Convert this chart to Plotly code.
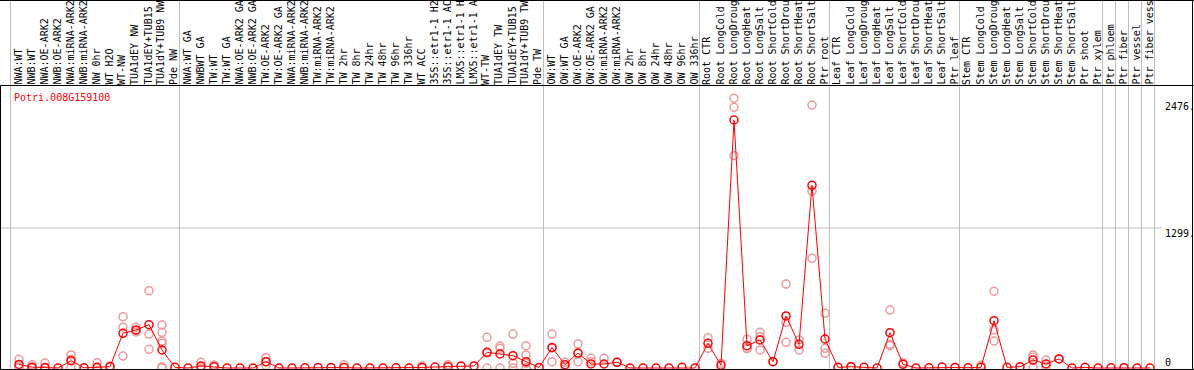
import plotly.graph_objects as go

categories = [
    "NWA:WT", "NWB:WT", "NWA:OE-ARK2", "NWB:OE-ARK2", "NWA:miRNA-ARK2", "NWB:miRNA-ARK2",
    "NW 0hr", "WT H2O", "WT-NW", "TUA1dEY NW", "TUA1dEY+TUB15", "TUA1dY+TUB9 NW", "Pde NW",
    "NWA:WT GA", "NWBWT GA", "TW:WT", "TW:WT GA", "NWA:OE-ARK2 GA", "NWB:OE-ARK2 GA",
    "TW:OE-ARK2", "TW:OE-ARK2 GA", "NWA:miRNA-ARK2", "NWB:miRNA-ARK2", "TW:miRNA-ARK2",
    "TW:miRNA-ARK2", "TW 2hr", "TW 8hr", "TW 24hr", "TW 48hr", "TW 96hr", "TW 336hr",
    "WT ACC", "35S::etr1-1 H2", "35S::etr1-1 AC", "LMX5::etr1-1 H", "LMX5::etr1-1 A",
    "WT-TW", "TUA1dEY TW", "TUA1dEY+TUB15", "TUA1dY+TUB9 TW", "Pde TW",
    "OW:WT", "OW:WT GA", "OW:OE-ARK2", "OW:OE-ARK2 GA", "OW:miRNA-ARK2", "OW:miRNA-ARK2",
    "OW 2hr", "OW 8hr", "OW 24hr", "OW 48hr", "OW 96hr", "OW 336hr",
    "Root CTR", "Root LongCold", "Root LongDroug", "Root LongHeat", "Root LongSalt",
    "Root ShortCold", "Root ShortDrou", "Root ShortHeat", "Root ShortSalt", "Ptr root",
    "Leaf CTR", "Leaf LongCold", "Leaf LongDroug", "Leaf LongHeat", "Leaf LongSalt",
    "Leaf ShortCold", "Leaf ShortDrou", "Leaf ShortHeat", "Leaf ShortSalt", "Ptr leaf",
    "Stem CTR", "Stem LongCold", "Stem LongDroug", "Stem LongHeat", "Stem LongSalt",
    "Stem ShortCold", "Stem ShortDrou", "Stem ShortHeat", "Stem ShortSalt", "Ptr shoot",
    "Ptr xylem", "Ptr phloem", "Ptr fiber", "Ptr vessel", "Ptr fiber vess",
]

means = [
    33, 8, 4, 0, 68, 2, 6, 12, 322, 353, 402, 167, 6,
    0, 19, 12, 0, 0, 0, 59, 0, 0, 2, 5, 5, 5, 0, 0, 0, 2, 0, 5, 9, 12, 19, 19, 145, 130, 114, 59, 5,
    189, 31, 139, 37, 37, 53, 0, 0, 0, 0, 6, 0,
    229, 25, 2301, 207, 260, 59, 483, 220, 1695, 269,
    6, 12, 6, 0, 328, 34, 0, 2, 9, 5,
    2, 6, 439, 6, 12, 74, 37, 84, 0, 6, 0,
    2, 3, 0, 0,
]

replicates = {
    0: [81, 15, 3], 1: [30, 0], 2: [46, 0], 4: [121, 80, 3], 6: [49, 0], 7: [19],
    8: [476, 378, 111], 9: [378, 334, 347], 10: [717, 315, 173],
    11: [399, 331, 250, 229, 12, 0], 14: [53, 0], 15: [28], 19: [96, 24, 57],
    25: [30], 31: [19], 33: [31], 36: [285, 139, 0], 37: [204, 183, 0],
    38: [315, 43, 0], 39: [207, 121, 43, 0, 0], 41: [315, 59, 193], 42: [53, 12],
    43: [223, 59, 135], 44: [90, 59], 45: [90], 46: [53], 53: [281, 183], 54: [43],
    55: [2503, 2419, 1970], 56: [266, 183, 179], 57: [331, 291, 167], 58: [59],
    59: [779, 424, 238], 60: [260, 167], 61: [2440, 1642, 1018], 62: [507, 183, 136],
    64: [15], 67: [538, 220, 207], 68: [49], 74: [25], 75: [712, 353, 250],
    78: [121, 99, 6], 79: [74, 19], 80: [84],
}

group_bounds = [0, 13, 41, 53, 63, 73, 84, 85, 86, 87, 88]
y_tick_labels = ["2476.", "1299.", "0"]
grid_value = 1299
title_text = "Potri.008G159100"

W, H = 1194, 370
STEP = 13.0
X0 = 19.0  # pixel of first point
def px_to_x(p):
    return (p - X0) / STEP
def py(p):
    return 1 - p / H

PLOT_TOP, PLOT_BOT = 85, 369
ZERO_PX, GRID_PX = 368, 228
k = (ZERO_PX - GRID_PX) / grid_value
y_lo = -(PLOT_BOT - ZERO_PX) / k
y_hi = (ZERO_PX - PLOT_TOP) / k

idx = list(range(len(categories)))
rx, ry = [], []
for i, vals in replicates.items():
    for v in vals:
        rx.append(i)
        ry.append(v)

fig = go.Figure()
fig.add_trace(go.Scatter(
    x=rx, y=ry, mode="markers",
    marker=dict(symbol="circle-open", size=8, color="#EE9A9A", line=dict(width=1.5)),
    hoverinfo="skip", showlegend=False, cliponaxis=False,
))
fig.add_trace(go.Scatter(
    x=idx, y=means, mode="lines+markers",
    line=dict(color="#FF0000", width=1),
    marker=dict(symbol="circle-open", size=8, color="#FF0000", line=dict(width=1.5)),
    showlegend=False, cliponaxis=False,
))

mono = "DejaVu Sans Mono"
annotations = []
for i, c in enumerate(categories):
    annotations.append(dict(
        x=i - 1.5 / STEP, xref="x", y=py(85), yref="paper",
        text=c, textangle=-90, showarrow=False,
        xanchor="center", yanchor="bottom", borderpad=0, borderwidth=0,
        font=dict(family=mono, size=10, color="black"),
    ))
annotations.append(dict(
    x=12 / W, xref="paper", y=py(98), yref="paper", text=title_text,
    showarrow=False, xanchor="left", yanchor="middle",
    font=dict(family=mono, size=10, color="#FF0000"),
))
for lab, cy in zip(y_tick_labels, [107, 233, 362]):
    annotations.append(dict(
        x=1163 / W, xref="paper", y=py(cy), yref="paper", text=lab,
        showarrow=False, xanchor="left", yanchor="middle",
        font=dict(family=mono, size=10, color="black"),
    ))

shapes = []
gray = "#C0C0C0"
for b in group_bounds:
    xb = px_to_x(10.5 + STEP * b)
    shapes.append(dict(type="line", xref="x", yref="paper", x0=xb, x1=xb,
                       y0=py(PLOT_BOT), y1=1, line=dict(color=gray, width=1), layer="below"))
shapes.append(dict(type="line", xref="paper", yref="y", x0=0, x1=1162 / W,
                   y0=grid_value, y1=grid_value, line=dict(color=gray, width=1), layer="below"))
black = "black"
for (x0, y0, x1, y1) in [
    (0, 85.5, W, 85.5),          # top of plot area
    (0, 369.5, W, 369.5),        # bottom
    (0.5, 85.5, 0.5, 370),       # left
    (1192.5, 0, 1192.5, 370),    # right
    (0, 0.5, W, 0.5),            # top edge
]:
    shapes.append(dict(type="line", xref="paper", yref="paper",
                       x0=x0 / W, x1=x1 / W, y0=py(y0), y1=py(y1),
                       line=dict(color=black, width=1)))

fig.update_layout(
    width=W, height=H, margin=dict(l=0, r=0, t=0, b=0),
    paper_bgcolor="white", plot_bgcolor="white",
    xaxis=dict(range=[px_to_x(0), px_to_x(W)], visible=False, fixedrange=True),
    yaxis=dict(range=[y_lo, y_hi], domain=[py(PLOT_BOT), py(PLOT_TOP)],
               visible=False, fixedrange=True),
    annotations=annotations, shapes=shapes,
)
fig.write_html(
    "out.html",
    config={"displayModeBar": False},
    post_script="document.body.style.margin='0';document.body.style.overflow='hidden';",
)
